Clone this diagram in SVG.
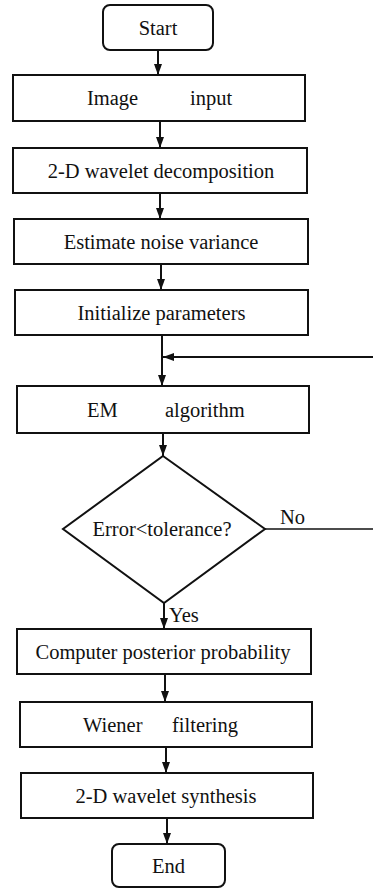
<svg xmlns="http://www.w3.org/2000/svg" width="373" height="889" viewBox="0 0 373 889">
<style>
.box{fill:#fff;stroke:#111;stroke-width:2}
.ln{fill:none;stroke:#111;stroke-width:2}
text{font-family:"Liberation Serif","Times New Roman",serif;font-size:20.5px;fill:#111}
.c{text-anchor:middle}
</style>
<defs>
<marker id="ah" markerUnits="userSpaceOnUse" markerWidth="11" markerHeight="8" refX="11" refY="4" orient="auto">
<path d="M0,0 L11,4 L0,8 z" fill="#111"/>
</marker>
</defs>
<rect width="373" height="889" fill="#fff"/>
<g id="connectors">
<line class="ln" x1="158" y1="50" x2="158" y2="75" marker-end="url(#ah)"/>
<line class="ln" x1="160" y1="121" x2="160" y2="148" marker-end="url(#ah)"/>
<line class="ln" x1="160" y1="193" x2="160" y2="219" marker-end="url(#ah)"/>
<line class="ln" x1="161" y1="264" x2="161" y2="290" marker-end="url(#ah)"/>
<line class="ln" x1="162" y1="335" x2="162" y2="386" marker-end="url(#ah)"/>
<line class="ln" x1="373" y1="357" x2="163" y2="357" marker-end="url(#ah)"/>
<line class="ln" x1="163" y1="433" x2="163" y2="456" marker-end="url(#ah)"/>
<line class="ln" x1="164" y1="603" x2="164" y2="629" marker-end="url(#ah)"/>
<line class="ln" x1="165" y1="674" x2="165" y2="702" marker-end="url(#ah)"/>
<line class="ln" x1="166" y1="747" x2="166" y2="773" marker-end="url(#ah)"/>
<line class="ln" x1="167" y1="818" x2="167" y2="844" marker-end="url(#ah)"/>
<line class="ln" x1="265" y1="529" x2="373" y2="529" style="stroke-width:1.5"/>
<text x="280" y="524">No</text>
<text x="169" y="622">Yes</text>
</g>
<g id="start">
<rect class="box" x="103" y="5" width="110" height="45" rx="7"/>
<text class="c" x="158" y="34.5">Start</text>
</g>
<g id="image-input">
<rect class="box" x="13" y="75" width="292" height="46"/>
<text x="87" y="105">Image</text>
<text x="190" y="105">input</text>
</g>
<g id="decomposition">
<rect class="box" x="13" y="148" width="294" height="45"/>
<text class="c" x="161" y="177.5">2-D wavelet decomposition</text>
</g>
<g id="noise">
<rect class="box" x="14" y="219" width="294" height="45"/>
<text class="c" x="161" y="248.5">Estimate noise variance</text>
</g>
<g id="init">
<rect class="box" x="15" y="290" width="293" height="45"/>
<text class="c" x="161.5" y="319.5">Initialize parameters</text>
</g>
<g id="em">
<rect class="box" x="17" y="386" width="292" height="47"/>
<text x="87" y="416.5">EM</text>
<text x="165" y="416.5">algorithm</text>
</g>
<g id="decision">
<polygon class="box" points="163,456 265,529 164,603 63,529"/>
<text class="c" x="162" y="536">Error&lt;tolerance?</text>
</g>
<g id="posterior">
<rect class="box" x="17" y="629" width="294" height="45"/>
<text class="c" x="163" y="658.5">Computer posterior probability</text>
</g>
<g id="wiener">
<rect class="box" x="20" y="702" width="292" height="45"/>
<text x="83" y="731.5">Wiener</text>
<text x="172" y="731.5">filtering</text>
</g>
<g id="synthesis">
<rect class="box" x="21" y="773" width="292" height="45"/>
<text class="c" x="166" y="802.5">2-D wavelet synthesis</text>
</g>
<g id="end">
<rect class="box" x="112" y="844" width="113" height="43" rx="7"/>
<text class="c" x="168.5" y="873">End</text>
</g>
</svg>
